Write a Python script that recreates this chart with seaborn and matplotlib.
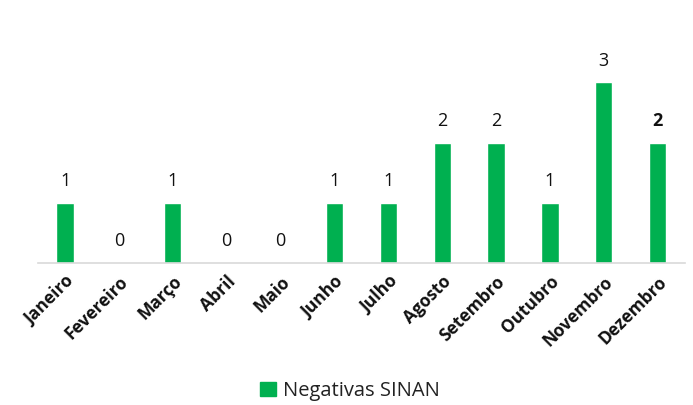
import matplotlib
matplotlib.use('Agg')
import matplotlib.pyplot as plt
import seaborn as sns
import pandas as pd
from matplotlib.patches import Patch

# Data
meses = ['Janeiro', 'Fevereiro', 'Março', 'Abril', 'Maio', 'Junho',
         'Julho', 'Agosto', 'Setembro', 'Outubro', 'Novembro', 'Dezembro']
negativas = [1, 0, 1, 0, 0, 1, 1, 2, 2, 1, 3, 2]
serie = 'Negativas SINAN'

df = pd.DataFrame({'mes': meses, 'valor': negativas})

sns.set_theme(style='white')
plt.rcParams['font.family'] = ['Open Sans', 'DejaVu Sans']

verde = '#00b050'

fig = plt.figure(figsize=(6.93, 4.05), dpi=100)
ax = fig.add_axes([0.055, 0.351, 0.933, 0.52])

sns.barplot(data=df, x='mes', y='valor', color=verde, width=0.32,
            saturation=1, ax=ax)

ax.set_ylim(0, 3.5)
ax.set_xlim(-0.5, len(meses) - 0.5)
ax.set_xlabel('')
ax.set_ylabel('')
ax.set_yticks([])

for s in ['top', 'right', 'left']:
    ax.spines[s].set_visible(False)
ax.spines['bottom'].set_color('#d9d9d9')
ax.spines['bottom'].set_linewidth(1.2)
ax.tick_params(axis='x', length=0, pad=7)

# value labels above bars
for i, v in enumerate(negativas):
    ax.annotate(str(v), xy=(i, v), xytext=(0, 9), textcoords='offset points',
                ha='center', va='bottom', fontsize=13, color='#111111',
                fontweight='bold' if i == len(meses) - 1 else 'normal')

ax.set_xticks(range(len(meses)))
ax.set_xticklabels(meses, rotation=45, ha='right', rotation_mode='anchor',
                   fontsize=12.5, fontweight='bold', color='#111111')

fig.legend(handles=[Patch(facecolor=verde, edgecolor=verde, label=serie)],
           loc='lower center', bbox_to_anchor=(0.505, -0.035), frameon=False,
           fontsize=14.5, handlelength=0.75, handleheight=0.75, handletextpad=0.35,
           labelcolor='#222222')

fig.savefig('out.png', dpi=100)
